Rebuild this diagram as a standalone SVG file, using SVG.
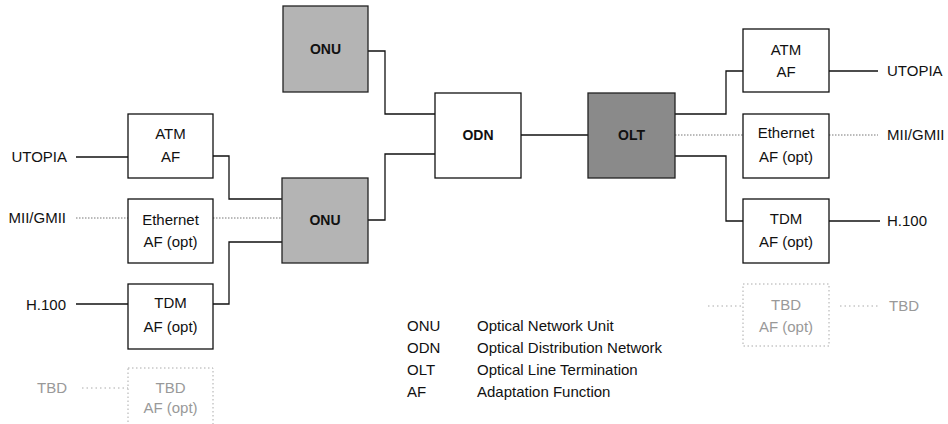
<svg xmlns="http://www.w3.org/2000/svg" width="948" height="424" viewBox="0 0 948 424">
<style>
text{font-family:"Liberation Sans",Arial,sans-serif;font-size:15px;fill:#111}
.c{text-anchor:middle}
.e{text-anchor:end}
.b{font-weight:bold;font-size:14px;text-anchor:middle}
.box{fill:#fff;stroke:#111;stroke-width:1.3}
.onu{fill:#b4b4b4;stroke:#222;stroke-width:1.3}
.olt{fill:#8a8a8a;stroke:#222;stroke-width:1.3}
.tbd{fill:#fff;stroke:#aaa;stroke-width:1;stroke-dasharray:1.5 2.5}
.tt{fill:#999}
.s{fill:none;stroke:#111;stroke-width:1.3}
.d{fill:none;stroke:#777;stroke-width:1;stroke-dasharray:1.5 1.5}
.dl{fill:none;stroke:#aaa;stroke-width:1;stroke-dasharray:1.5 3}
</style>
<g id="connectors">
<polyline class="s" points="368,51 385,51 385,114 435,114"/>
<polyline class="s" points="368,220 385,220 385,154 435,154"/>
<line class="s" x1="521" y1="135" x2="588" y2="135"/>
<polyline class="s" points="675,114 726,114 726,71 743,71"/>
<line class="d" x1="675" y1="135" x2="743" y2="135"/>
<polyline class="s" points="675,156 726,156 726,221 743,221"/>
<line class="s" x1="829" y1="71" x2="878" y2="71"/>
<line class="d" x1="829" y1="135" x2="878" y2="135"/>
<line class="s" x1="829" y1="221" x2="880" y2="221"/>
<line class="dl" x1="708" y1="306" x2="743" y2="306"/>
<line class="dl" x1="840" y1="306" x2="880" y2="306"/>
<line class="s" x1="76" y1="157" x2="128" y2="157"/>
<polyline class="s" points="213,156 229,156 229,199 282,199"/>
<line class="d" x1="76" y1="218" x2="128" y2="218"/>
<line class="d" x1="213" y1="218" x2="282" y2="218"/>
<line class="s" x1="76" y1="304" x2="128" y2="304"/>
<polyline class="s" points="213,304 229,304 229,242 282,242"/>
<line class="dl" x1="82" y1="388" x2="128" y2="388"/>
</g>
<g id="onu-top">
<rect class="onu" x="283" y="6" width="85" height="86"/>
<text class="b" x="325.5" y="54">ONU</text>
</g>
<g id="onu-bottom">
<rect class="onu" x="282" y="178" width="86" height="85"/>
<text class="b" x="325" y="225">ONU</text>
</g>
<g id="odn">
<rect class="box" x="435" y="93" width="86" height="85"/>
<text class="b" x="478" y="140">ODN</text>
</g>
<g id="olt">
<rect class="olt" x="588" y="93" width="87" height="85"/>
<text class="b" x="631.5" y="140">OLT</text>
</g>
<g id="atm-left">
<rect class="box" x="128" y="114" width="85" height="64"/>
<text class="c" x="170.5" y="139">ATM</text>
<text class="c" x="170.5" y="162">AF</text>
<text class="e" x="67" y="162">UTOPIA</text>
</g>
<g id="eth-left">
<rect class="box" x="128" y="199" width="85" height="64"/>
<text class="c" x="170.5" y="225">Ethernet</text>
<text class="c" x="170.5" y="247">AF (opt)</text>
<text class="e" x="66" y="223">MII/GMII</text>
</g>
<g id="tdm-left">
<rect class="box" x="128" y="284" width="85" height="65"/>
<text class="c" x="170.5" y="308">TDM</text>
<text class="c" x="170.5" y="332">AF (opt)</text>
<text class="e" x="66" y="310">H.100</text>
</g>
<g id="tbd-left">
<rect class="tbd" x="128" y="368" width="85" height="64"/>
<text class="c tt" x="170.5" y="393">TBD</text>
<text class="c tt" x="170.5" y="413">AF (opt)</text>
<text class="e tt" x="67" y="393">TBD</text>
</g>
<g id="atm-right">
<rect class="box" x="743" y="29" width="86" height="63"/>
<text class="c" x="786" y="55">ATM</text>
<text class="c" x="786" y="77">AF</text>
<text x="887" y="76">UTOPIA</text>
</g>
<g id="eth-right">
<rect class="box" x="743" y="114" width="86" height="64"/>
<text class="c" x="786" y="138">Ethernet</text>
<text class="c" x="786" y="162">AF (opt)</text>
<text x="887" y="140">MII/GMII</text>
</g>
<g id="tdm-right">
<rect class="box" x="743" y="199" width="86" height="64"/>
<text class="c" x="786" y="224">TDM</text>
<text class="c" x="786" y="247">AF (opt)</text>
<text x="887" y="226">H.100</text>
</g>
<g id="tbd-right">
<rect class="tbd" x="743" y="284" width="86" height="62"/>
<text class="c tt" x="786" y="310">TBD</text>
<text class="c tt" x="786" y="332">AF (opt)</text>
<text class="tt" x="889" y="311">TBD</text>
</g>
<g id="legend">
<text x="407" y="331">ONU</text><text x="477" y="331">Optical Network Unit</text>
<text x="407" y="353">ODN</text><text x="477" y="353">Optical Distribution Network</text>
<text x="407" y="375">OLT</text><text x="477" y="375">Optical Line Termination</text>
<text x="407" y="397">AF</text><text x="477" y="397">Adaptation Function</text>
</g>
</svg>
